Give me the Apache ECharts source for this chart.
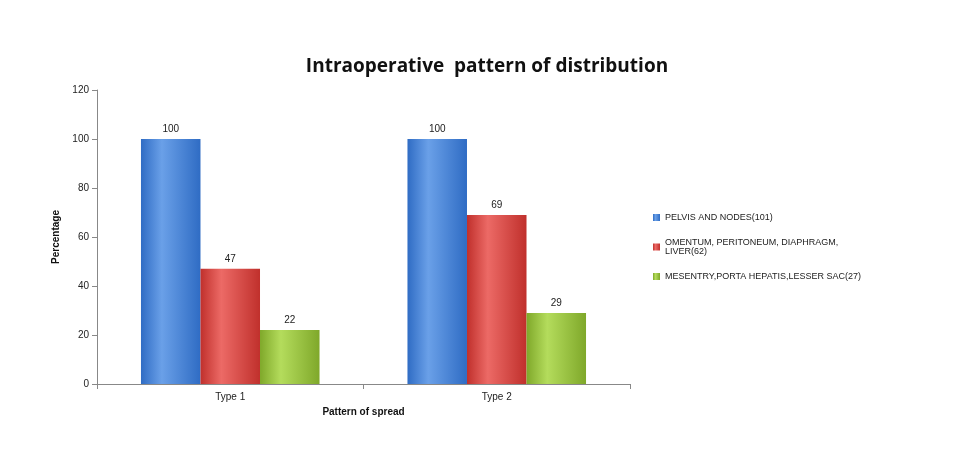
<!DOCTYPE html>
<html><head><meta charset="utf-8">
<script src="https://cdn.jsdelivr.net/npm/echarts@6/dist/echarts.min.js"></script>
<style>html,body{margin:0;padding:0;background:#fff}#c{width:954px;height:450px}</style>
</head><body><div id="c"></div>
<script>
const categories = ['Type 1', 'Type 2'];
const seriesNames = ['PELVIS AND NODES(101)', 'OMENTUM, PERITONEUM, DIAPHRAGM,\nLIVER(62)', 'MESENTRY,PORTA HEPATIS,LESSER SAC(27)'];
const pelvis = [100, 100];
const omentum = [47, 69];
const mesentry = [22, 29];
const colors = [['#6aa0e8','#2f6cc4'],['#ec6a66','#c0302c'],['#b4dc5c','#7fa82a']];
function grad(c){return new echarts.graphic.LinearGradient(0,0,1,0,[{offset:0,color:c[1]},{offset:0.35,color:c[0]},{offset:1,color:c[1]}]);}
const data=[pelvis,omentum,mesentry];
const chart = echarts.init(document.getElementById('c'));
chart.setOption({
  animation:false,
  title:{text:'Intraoperative  pattern of distribution',left:482,top:52,textAlign:'center',textStyle:{fontFamily:'Open Sans',fontSize:19,fontWeight:'bold',color:'#111'}},
  grid:{left:97,right:324,top:90,bottom:66},
  legend:{orient:'vertical',left:648,top:208,itemWidth:7,itemHeight:7,itemGap:16,icon:'rect',
    textStyle:{fontFamily:'Liberation Sans',fontSize:9,color:'#222'},data:seriesNames},
  xAxis:{type:'category',data:categories,name:'Pattern of spread',nameLocation:'middle',nameGap:22,
    nameTextStyle:{fontFamily:'Liberation Sans',fontSize:10,fontWeight:'bold',color:'#111'},
    axisLine:{lineStyle:{color:'#888'}},axisTick:{show:true},axisLabel:{fontFamily:'Liberation Sans',fontSize:10,color:'#222'}},
  yAxis:{type:'value',min:0,max:120,interval:20,name:'Percentage',nameLocation:'middle',nameGap:36,
    nameTextStyle:{fontFamily:'Liberation Sans',fontSize:10,fontWeight:'bold',color:'#111'},
    axisLine:{show:true,lineStyle:{color:'#888'}},axisTick:{show:true},splitLine:{show:false},
    axisLabel:{fontFamily:'Liberation Sans',fontSize:10,color:'#222'}},
  series:seriesNames.map((n,i)=>({name:n,type:'bar',data:data[i],barGap:'0%',barCategoryGap:'33%',
    itemStyle:{color:grad(colors[i])},
    label:{show:true,position:'top',fontFamily:'Liberation Sans',fontSize:10,color:'#222'}}))
});
</script></body></html>
